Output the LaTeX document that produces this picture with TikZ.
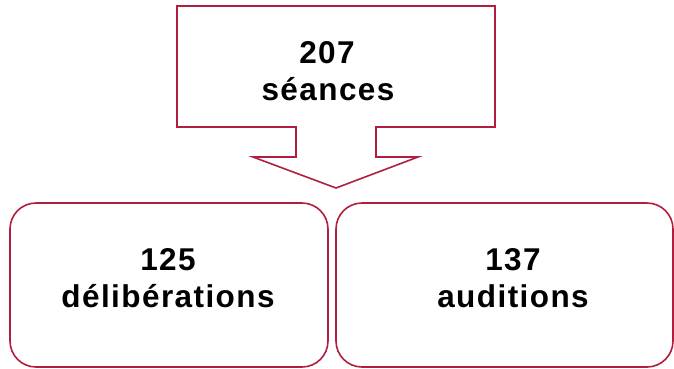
\documentclass[tikz,border=0pt]{standalone}
\usepackage{fontspec}
\setmainfont{Liberation Sans}[LetterSpace=4.5]
\definecolor{frame}{HTML}{B11E3F}
\begin{document}
\begin{tikzpicture}[x=1pt,y=-1pt,
  outline/.style={draw=frame,line width=1.6pt,line join=miter},
  roundbox/.style={draw=frame,line width=1.6pt,rounded corners=26pt},
  label/.style={anchor=base,inner sep=0pt,font=\fontsize{31.5}{36}\selectfont\bfseries}]
\useasboundingbox (0,0) rectangle (674,368);
% top callout with down arrow
\draw[outline] (177,6) -- (495,6) -- (495,127) -- (376,127) -- (376,157) -- (418,157)
  -- (336,188) -- (253,157) -- (296,157) -- (296,127) -- (177,127) -- cycle;
\node[label] (n207) at (327,63) {207};
\node[label] (seances) at (328,100) {séances};
% bottom boxes
\draw[roundbox] (10,203) rectangle (328,367);
\draw[roundbox] (336,203) rectangle (673,367);
\node[label] (n125) at (168,270) {125};
\node[label] (delib) at (168,307) {délibérations};
\node[label] (n137) at (513,270) {137};
\node[label] (aud) at (513,307) {auditions};
\end{tikzpicture}
\end{document}
